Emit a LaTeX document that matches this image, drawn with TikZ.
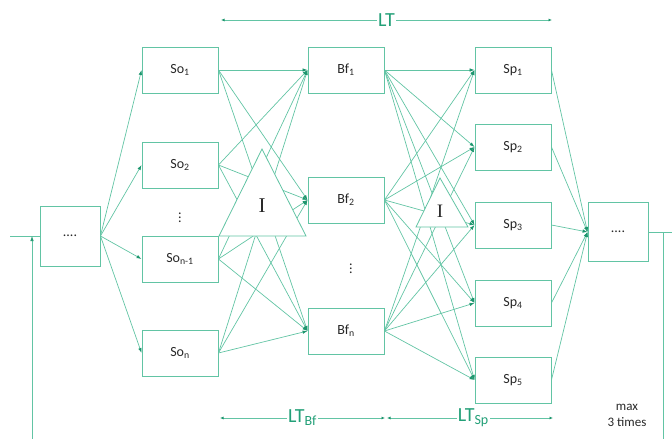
\documentclass[tikz,border=0pt]{standalone}
\usepackage{fontspec}
\setmainfont{Carlito}
\newfontfamily\serifI{Liberation Serif}
\usetikzlibrary{arrows.meta}
\definecolor{linegreen}{RGB}{98,196,164}
\definecolor{tipgreen}{RGB}{30,150,110}
\definecolor{textgreen}{RGB}{35,160,120}
\definecolor{boxtext}{RGB}{40,40,40}

\begin{document}
\begin{tikzpicture}[x=1pt, y=-1pt,
        box_style/.style={draw=linegreen, line width=0.9pt, fill=white, minimum width=76pt, minimum height=46pt, inner sep=0pt, text=boxtext, font=\fontsize{14}{16}\selectfont},
        end_box_style/.style={box_style, minimum width=60pt, minimum height=60pt},
        dots_style/.style={inner sep=0pt, text=boxtext, font=\fontsize{14}{16}\selectfont},
        line_style/.style={draw=linegreen, line width=0.7pt},
        edge_style/.style={line_style, -{Latex[length=5pt,width=3.5pt,color=tipgreen]}},
        tri_style/.style={draw=linegreen, line width=0.8pt, fill=white},
        span_style/.style={line_style, {Latex[length=3.5pt,width=3pt,color=tipgreen]}-{Latex[length=3.5pt,width=3pt,color=tipgreen]}},
        span_label/.style={fill=white, text=textgreen, inner sep=1pt, font=\fontsize{20}{22}\selectfont}]
        
        \useasboundingbox (0,0) rectangle (672,439);
        
        % boxes
        \node [end_box_style](in) at (70,236) {....};
        \node [box_style](so1) at (180,70) {So\textsubscript{1}};
        \node [box_style](so2) at (180,165) {So\textsubscript{2}};
        \node [box_style](so3) at (180,259) {So\textsubscript{n-1}};
        \node [box_style](so4) at (180,353) {So\textsubscript{n}};
        \node [box_style](bf1) at (346,70) {Bf\textsubscript{1}};
        \node [box_style](bf2) at (346,200) {Bf\textsubscript{2}};
        \node [box_style](bf3) at (346,331) {Bf\textsubscript{n}};
        \node [box_style](sp1) at (513,70) {Sp\textsubscript{1}};
        \node [box_style](sp2) at (513,147) {Sp\textsubscript{2}};
        \node [box_style](sp3) at (513,225) {Sp\textsubscript{3}};
        \node [box_style](sp4) at (513,303) {Sp\textsubscript{4}};
        \node [box_style](sp5) at (513,380) {Sp\textsubscript{5}};
        \node [end_box_style, minimum height=59pt](out) at (618,232) {....};
        \node [dots_style](dots1) at (180,215) {$\vdots$};
        \node [dots_style](dots2) at (351,266) {$\vdots$};
        
        % loop in and out
        \coordinate (in_start) at (10,236);
        \coordinate (fb_start) at (32,439);
        \coordinate (fb_end) at (32,236);
        \coordinate (out_end) at (672,232);
        \coordinate (loop_top) at (663,232);
        \coordinate (loop_bottom) at (663,439);
        \draw [line_style] (in_start) -- (in.west);
        \draw [edge_style] (fb_start) -- (fb_end);
        \draw [line_style] (out.east) -- (out_end);
        \draw [line_style] (loop_top) -- (loop_bottom);
        
        % connectors
        \path (in.east) edge [edge_style] (so1.west) edge [edge_style] (so2.west) edge [edge_style] (so3.west) edge [edge_style] (so4.west);
        \path (so1.east) edge [edge_style] (bf1.west) edge [edge_style] (bf2.west) edge [edge_style] (bf3.west);
        \path (so2.east) edge [edge_style] (bf1.west) edge [edge_style] (bf2.west) edge [edge_style] (bf3.west);
        \path (so3.east) edge [edge_style] (bf1.west) edge [edge_style] (bf2.west) edge [edge_style] (bf3.west);
        \path (so4.east) edge [edge_style] (bf1.west) edge [edge_style] (bf2.west) edge [edge_style] (bf3.west);
        \path (bf1.east) edge [edge_style] (sp1.west) edge [edge_style] (sp2.west) edge [edge_style] (sp3.west) edge [edge_style] (sp4.west) edge [edge_style] (sp5.west);
        \path (bf2.east) edge [edge_style] (sp1.west) edge [edge_style] (sp2.west) edge [edge_style] (sp3.west) edge [edge_style] (sp4.west) edge [edge_style] (sp5.west);
        \path (bf3.east) edge [edge_style] (sp1.west) edge [edge_style] (sp2.west) edge [edge_style] (sp3.west) edge [edge_style] (sp4.west) edge [edge_style] (sp5.west);
        \draw [edge_style] (sp1.east) -- (out.west);
        \draw [edge_style] (sp2.east) -- (out.west);
        \draw [edge_style] (sp3.east) -- (out.west);
        \draw [edge_style] (sp4.east) -- (out.west);
        \draw [edge_style] (sp5.east) -- (out.west);
        
        % triangles
        \draw [tri_style] (219,236) -- (262,149) -- (306,236) -- cycle;
        \draw [tri_style] (416,227) -- (440,178) -- (468,227) -- cycle;
        \node [font=\serifI\fontsize{21}{24}\selectfont, text=boxtext](i1) at (262,206) {I};
        \node [font=\serifI\fontsize{19}{22}\selectfont, text=boxtext](i2) at (440,211) {I};
        
        % time spans
        \coordinate (lt_a) at (221,20);
        \coordinate (lt_b) at (552,20);
        \coordinate (bf_a) at (220,418);
        \coordinate (bf_b) at (385,418);
        \coordinate (sp_a) at (387,418);
        \coordinate (sp_b) at (553,418);
        \draw [span_style] (lt_a) -- node[span_label]{LT} (lt_b);
        \draw [span_style] (bf_a) -- node[span_label, pos=0.5]{LT\textsubscript{Bf}} (bf_b);
        \draw [span_style] (sp_a) -- node[span_label, pos=0.52]{LT\textsubscript{Sp}} (sp_b);
        
        \node [align=center, text=boxtext, font=\fontsize{13}{16}\selectfont](max) at (627,415) {max\\3 times};
        \end{tikzpicture}
\end{document}
